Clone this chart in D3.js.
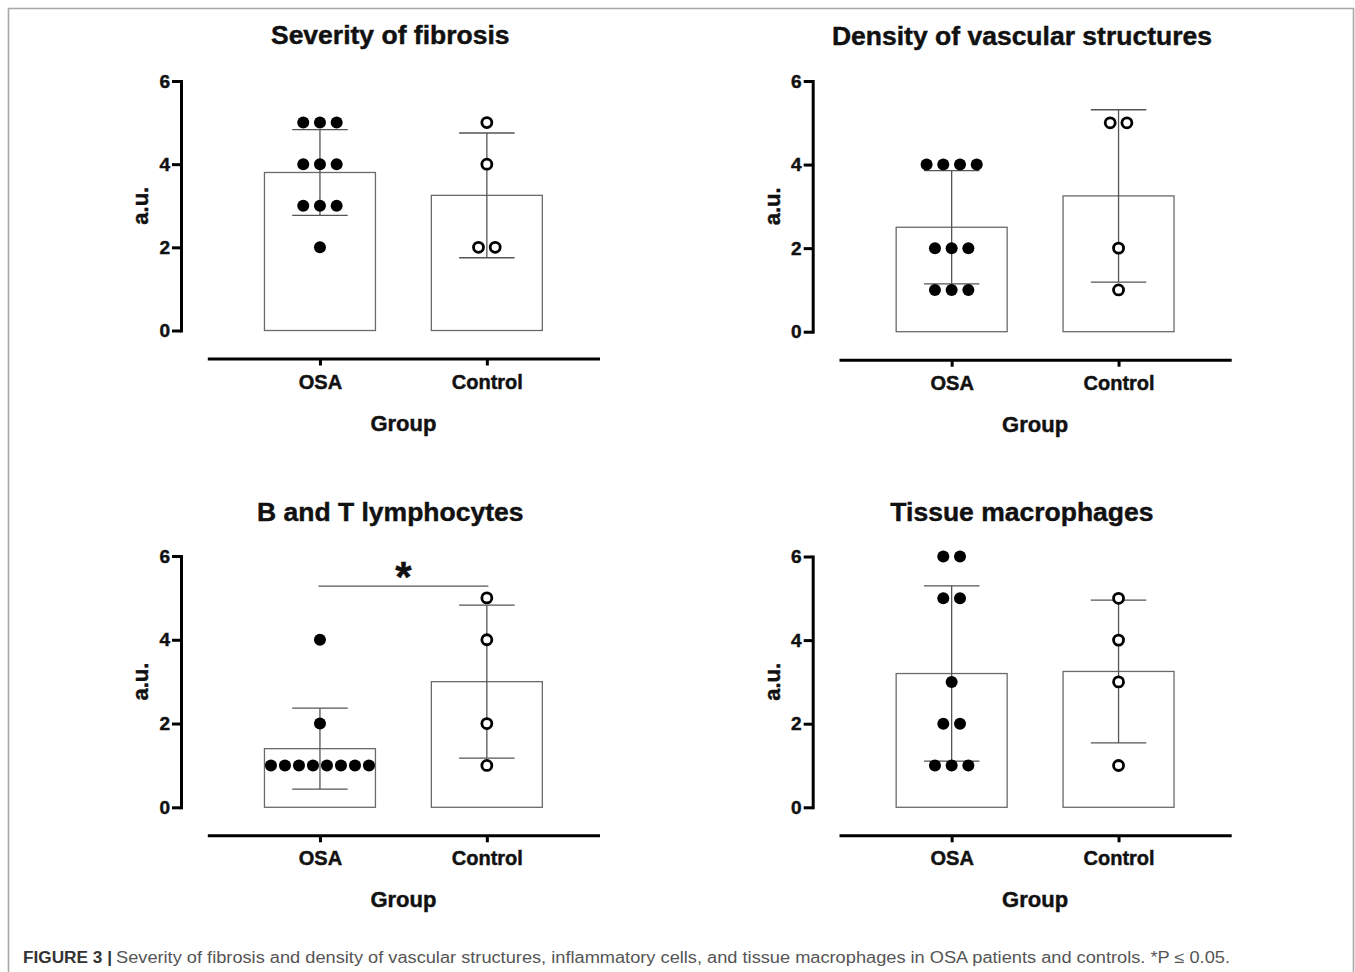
<!DOCTYPE html>
<html>
<head>
<meta charset="utf-8">
<script src="https://cdn.jsdelivr.net/npm/d3@7"></script>
<style>
  body { margin: 0; background: #fff; }
  svg { display: block; }
  text { font-family: "Liberation Sans", Arial, Helvetica, sans-serif; }
  .heavy { stroke: #111; stroke-width: 0.45px; }
</style>
</head>
<body>
<script>
// group names and y ticks
var categories = ["OSA", "Control"];
var yTicks = [0, 2, 4, 6];

// panel titles
var titles = ["Severity of fibrosis", "Density of vascular structures",
              "B and T lymphocytes", "Tissue macrophages"];

// individual scores
var fibrosisOSA = [5, 5, 5, 4, 4, 4, 3, 3, 3, 2];
var fibrosisControl = [5, 4, 2, 2];
var vascularOSA = [4, 4, 4, 4, 2, 2, 2, 1, 1, 1];
var vascularControl = [5, 5, 2, 1];
var lymphoOSA = [4, 2, 1, 1, 1, 1, 1, 1, 1, 1];
var lymphoControl = [5, 4, 2, 1];
var macroOSA = [6, 6, 5, 5, 3, 2, 2, 1, 1, 1];
var macroControl = [5, 4, 3, 1];

// significance bracket in panel 3
var sigValue = 5.28;
var sigLabel = "*";

var captionBold = "FIGURE 3 |";
var captionText = "Severity of fibrosis and density of vascular structures, inflammatory cells, and tissue macrophages in OSA patients and controls. *P \u2264 0.05.";

var W = 1355, H = 972;

var svg = d3.select("body").append("svg")
    .attr("width", W)
    .attr("height", H);

// figure frame (open at bottom)
svg.append("path")
    .attr("d", "M8.5," + (H + 5) + "V8.5H1353.5V" + (H + 5))
    .attr("fill", "none")
    .attr("stroke", "#a8a8a8")
    .attr("stroke-width", 1.6);

var panels = [
  { title: titles[0], osa: fibrosisOSA, ctl: fibrosisControl, ax: 181, y0: 330.5, y6: 81, ty: 44 },
  { title: titles[1], osa: vascularOSA, ctl: vascularControl, ax: 812.7, y0: 331.7, y6: 81, ty: 45 },
  { title: titles[2], osa: lymphoOSA, ctl: lymphoControl, ax: 181, y0: 807.3, y6: 556, ty: 521, sig: true },
  { title: titles[3], osa: macroOSA, ctl: macroControl, ax: 812.7, y0: 807.3, y6: 556.5, ty: 521 }
];

panels.forEach(function(p) { draw_panel(p); });

function draw_panel(p) {
  var g = svg.append("g");
  var xStart = p.ax + 26.3, xEnd = p.ax + 418.5;
  var xAxisY = p.y0 + 28;

  var y = d3.scaleLinear().domain([0, 6]).range([p.y0, p.y6]);
  var x = d3.scalePoint().domain(categories).range([xStart, xEnd]).padding(0.675);
  var barW = x.step() * 0.665;

  // title
  g.append("text")
      .attr("class", "heavy")
      .attr("x", (p.ax + xEnd) / 2)
      .attr("y", p.ty)
      .attr("text-anchor", "middle")
      .attr("font-size", 26.5)
      .attr("font-weight", "bold")
      .attr("fill", "#111")
      .text(p.title);

  // bars + error bars + dots
  var groups = [p.osa, p.ctl];
  groups.forEach(function(vals, gi) {
    var cx = x(categories[gi]);
    var m = d3.mean(vals), sd = d3.deviation(vals);

    g.append("rect")
        .attr("x", cx - barW / 2)
        .attr("y", y(m))
        .attr("width", barW)
        .attr("height", y(0) - y(m))
        .attr("fill", "#fff")
        .attr("stroke", "#6a6a6a")
        .attr("stroke-width", 1.3);

    var capW = barW / 2;
    g.append("line")
        .attr("x1", cx).attr("x2", cx)
        .attr("y1", y(m + sd)).attr("y2", y(m - sd))
        .attr("stroke", "#555").attr("stroke-width", 1.3);
    [m + sd, m - sd].forEach(function(v) {
      g.append("line")
          .attr("x1", cx - capW / 2).attr("x2", cx + capW / 2)
          .attr("y1", y(v)).attr("y2", y(v))
          .attr("stroke", "#555").attr("stroke-width", 1.3);
    });

    // spread equal values side by side
    var counts = d3.rollup(vals, function(v) { return v.length; }, function(d) { return d; });
    var pts = [];
    counts.forEach(function(n, v) {
      var sp = n > 1 ? Math.min(16.7, 98 / (n - 1)) : 0;
      for (var i = 0; i < n; i++) {
        pts.push({ v: v, dx: (i - (n - 1) / 2) * sp });
      }
    });

    g.selectAll(null)
        .data(pts)
        .enter().append("circle")
        .attr("cx", function(d) { return cx + d.dx; })
        .attr("cy", function(d) { return y(d.v); })
        .attr("r", gi === 0 ? 6 : 5)
        .attr("fill", gi === 0 ? "#000" : "#fff")
        .attr("stroke", gi === 0 ? "none" : "#000")
        .attr("stroke-width", 2.8);
  });

  // y axis
  var yAxis = g.append("g")
      .attr("transform", "translate(" + p.ax + ",0)")
      .call(d3.axisLeft(y).tickValues(yTicks).tickFormat(d3.format("d"))
        .tickSize(9).tickSizeOuter(0).tickPadding(2));
  yAxis.select(".domain").attr("stroke", "#000").attr("stroke-width", 3).attr("stroke-linecap", "square");
  yAxis.selectAll(".tick line").attr("stroke", "#000").attr("stroke-width", 3);
  yAxis.selectAll(".tick text")
      .attr("class", "heavy")
      .attr("font-size", 19)
      .attr("font-weight", "bold")
      .attr("fill", "#111")
      .attr("font-family", "Liberation Sans, Arial, sans-serif");

  // x axis
  var xAxis = g.append("g")
      .attr("transform", "translate(0," + xAxisY + ")")
      .call(d3.axisBottom(x).tickSize(7).tickSizeOuter(0));
  xAxis.select(".domain").attr("stroke", "#000").attr("stroke-width", 3);
  xAxis.selectAll(".tick line").attr("stroke", "#000").attr("stroke-width", 3);
  xAxis.selectAll(".tick text")
      .attr("class", "heavy")
      .attr("y", 30).attr("dy", 0)
      .attr("font-size", 20)
      .attr("font-weight", "bold")
      .attr("fill", "#111")
      .attr("font-family", "Liberation Sans, Arial, sans-serif");

  // axis titles
  g.append("text")
      .attr("class", "heavy")
      .attr("x", (xStart + xEnd) / 2)
      .attr("y", xAxisY + 72)
      .attr("text-anchor", "middle")
      .attr("font-size", 22)
      .attr("font-weight", "bold")
      .attr("fill", "#111")
      .text("Group");

  g.append("text")
      .attr("class", "heavy")
      .attr("transform", "translate(" + (p.ax - 33) + "," + ((p.y0 + p.y6) / 2) + ") rotate(-90)")
      .attr("text-anchor", "middle")
      .attr("font-size", 22)
      .attr("font-weight", "bold")
      .attr("fill", "#111")
      .text("a.u.");

  if (p.sig) {
    var x1 = x(categories[0]) - 1.5, x2 = x(categories[1]) + 1.5;
    g.append("line")
        .attr("x1", x1).attr("x2", x2)
        .attr("y1", y(sigValue)).attr("y2", y(sigValue))
        .attr("stroke", "#555").attr("stroke-width", 1.3);
    g.append("text")
        .attr("class", "heavy")
        .attr("x", (x1 + x2) / 2)
        .attr("y", y(sigValue) + 5)
        .attr("text-anchor", "middle")
        .attr("font-size", 42)
        .attr("font-weight", "bold")
        .attr("fill", "#111")
        .text(sigLabel);
  }
}

// caption
svg.append("text")
    .attr("x", 23).attr("y", 963)
    .attr("font-size", 16)
    .attr("font-weight", "bold")
    .attr("fill", "#333")
    .attr("textLength", 89)
    .attr("lengthAdjust", "spacingAndGlyphs")
    .style("font-family", "'Liberation Sans Narrow', 'Liberation Sans', sans-serif")
    .text(captionBold);

svg.append("text")
    .attr("x", 116).attr("y", 963)
    .attr("font-size", 16)
    .attr("fill", "#555")
    .attr("textLength", 1114)
    .attr("lengthAdjust", "spacingAndGlyphs")
    .style("font-family", "'Liberation Sans Narrow', 'Liberation Sans', sans-serif")
    .text(captionText);
</script>
</body>
</html>
